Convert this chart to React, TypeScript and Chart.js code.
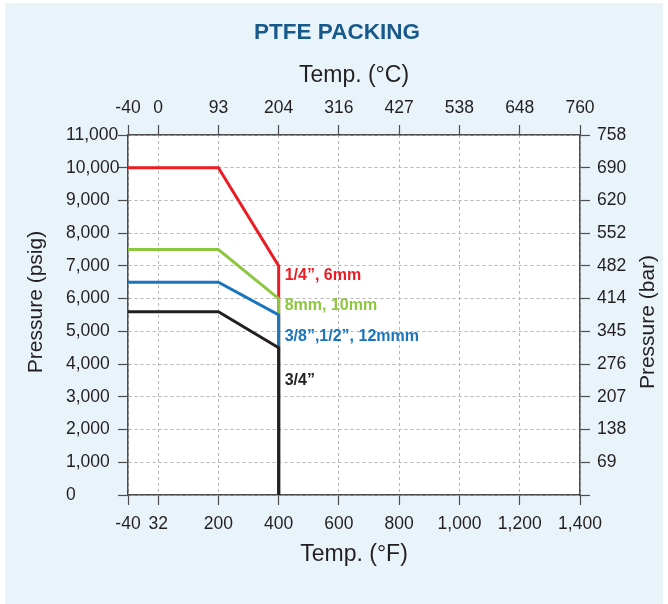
import React, { useEffect, useRef } from 'react';
import { Chart, registerables, LinearScale } from 'chart.js';

// ---------- data ----------
const tempF = [-40, 200, 400, 400];
const pressureQuarter = [10000, 10000, 7000, 0];
const pressure8mm = [7500, 7500, 6000, 0];
const pressure38 = [6500, 6500, 5500, 0];
const pressure34 = [5600, 5600, 4500, 0];

const seriesNames = ['1/4\u201D, 6mm', '8mm, 10mm', '3/8\u201D,1/2\u201D, 12mmm', '3/4\u201D'];
const seriesValues = [pressureQuarter, pressure8mm, pressure38, pressure34];
const seriesColors = ['#ec1c24', '#8dc63f', '#1b75bc', '#231f20'];
const labelTempF = 400;
const labelPressure = [6700, 5800, 4850, 3500];

const fTicks = [-40, 32, 200, 400, 600, 800, 1000, 1200, 1400];
const fTickLabels = ['-40', '32', '200', '400', '600', '800', '1,000', '1,200', '1,400'];
const cTickLabels = ['-40', '0', '93', '204', '316', '427', '538', '648', '760'];
const psigTicks = [0, 1000, 2000, 3000, 4000, 5000, 6000, 7000, 8000, 9000, 10000, 11000];
const psigTickLabels = ['0', '1,000', '2,000', '3,000', '4,000', '5,000', '6,000', '7,000', '8,000', '9,000', '10,000', '11,000'];
const barTickLabels = ['', '69', '138', '207', '276', '345', '414', '482', '552', '620', '690', '758'];

// axis slot layout (tick spacing of the printed chart)
const fSlots = [0, 0.5, 1.5, 2.5, 3.5, 4.5, 5.5, 6.5, 7.5];

// ---------- styles ----------
const FONT = "'Liberation Sans', Arial, Helvetica, sans-serif";
const TXT = '#231f20';
const AXIS = '#4d4d4f';
const GRID = '#b5b5b5';
const TITLE_COLOR = '#17598a';

class PiecewiseScale extends LinearScale {
  static id = 'piecewise';
  static defaults = { ...(LinearScale as any).defaults };

  buildTicks() {
    const anchors: number[] = (this as any).options.anchors;
    return anchors.map((v) => ({ value: v }));
  }

  getPixelForValue(value: number) {
    const anchors: number[] = (this as any).options.anchors;
    const slots: number[] = (this as any).options.slots;
    const last = anchors.length - 1;
    const total = slots[last];
    let pos: number;
    if (value <= anchors[0]) pos = slots[0];
    else if (value >= anchors[last]) pos = slots[last];
    else {
      let i = 0;
      while (i < last - 1 && value > anchors[i + 1]) i++;
      pos = slots[i] + ((value - anchors[i]) / (anchors[i + 1] - anchors[i])) * (slots[i + 1] - slots[i]);
    }
    return (this as any).getPixelForDecimal(pos / total);
  }

  getValueForPixel(pixel: number) {
    const anchors: number[] = (this as any).options.anchors;
    const slots: number[] = (this as any).options.slots;
    const last = anchors.length - 1;
    const pos = (this as any).getDecimalForPixel(pixel) * slots[last];
    let i = 0;
    while (i < last - 1 && pos > slots[i + 1]) i++;
    return anchors[i] + ((pos - slots[i]) / (slots[i + 1] - slots[i])) * (anchors[i + 1] - anchors[i]);
  }
}

Chart.register(...registerables, PiecewiseScale as any);

const bgPlugin = {
  id: 'plotBg',
  beforeDraw(chart: any) {
    const { ctx, chartArea } = chart;
    ctx.save();
    ctx.fillStyle = '#ffffff';
    ctx.fillRect(chartArea.left, chartArea.top, chartArea.right - chartArea.left, chartArea.bottom - chartArea.top);
    ctx.restore();
  },
};

const textPlugin = {
  id: 'texts',
  afterDatasetsDraw(chart: any) {
    const { ctx } = chart;
    const xs = chart.scales.x;
    const ys = chart.scales.y;
    ctx.save();
    ctx.font = `bold 16px ${FONT}`;
    ctx.textAlign = 'left';
    ctx.textBaseline = 'middle';
    seriesNames.forEach((name, i) => {
      ctx.fillStyle = seriesColors[i];
      ctx.fillText(name, xs.getPixelForValue(labelTempF) + 6, ys.getPixelForValue(labelPressure[i]));
    });
    ctx.restore();
  },
  afterDraw(chart: any) {
    const { ctx, chartArea } = chart;
    const midY = (chartArea.top + chartArea.bottom) / 2;
    ctx.save();
    ctx.textAlign = 'center';
    ctx.textBaseline = 'middle';
    ctx.fillStyle = TITLE_COLOR;
    ctx.font = `bold 22.5px ${FONT}`;
    ctx.fillText('PTFE PACKING', 337, 32.5);

    ctx.fillStyle = TXT;
    ctx.font = `21px ${FONT}`;
    ctx.save();
    ctx.translate(36, midY - 13);
    ctx.rotate(-Math.PI / 2);
    ctx.fillText('Pressure (psig)', 0, 0);
    ctx.restore();

    ctx.save();
    ctx.translate(648.5, midY + 7);
    ctx.rotate(-Math.PI / 2);
    ctx.fillText('Pressure (bar)', 0, 0);
    ctx.restore();
    ctx.restore();
  },
};

const tickFont = { size: 17.5, family: FONT };
const titleFont = { size: 23, family: FONT };

export default function App() {
  const ref = useRef<HTMLCanvasElement>(null);

  useEffect(() => {
    if (!ref.current) return;
    const datasets = seriesValues.map((vals, i) => ({
      label: seriesNames[i],
      data: tempF.map((t, j) => ({ x: t, y: vals[j] })),
      borderColor: seriesColors[i],
      backgroundColor: seriesColors[i],
      borderWidth: 3,
      pointRadius: 0,
      fill: false,
      tension: 0,
      borderJoinStyle: 'miter',
      borderCapStyle: 'butt',
      order: seriesValues.length - i,
      xAxisID: 'x',
      yAxisID: 'y',
    }));

    const chart = new Chart(ref.current, {
      type: 'line',
      data: { datasets } as any,
      plugins: [bgPlugin, textPlugin],
      options: {
        responsive: false,
        animation: false,
        devicePixelRatio: 1,
        layout: { padding: { left: 66, top: 54, right: 0, bottom: 0 } },
        plugins: { legend: { display: false }, tooltip: { enabled: false }, title: { display: false } },
        scales: {
          x: {
            type: 'piecewise',
            position: 'bottom',
            min: -40,
            max: 1400,
            anchors: fTicks,
            slots: fSlots,
            afterFit: (s: any) => { s.height = 109; },
            grid: { display: true, drawOnChartArea: true, color: GRID, lineWidth: 1, drawTicks: true, tickLength: 10, tickColor: AXIS, tickWidth: 1.2 },
            border: { display: true, color: AXIS, width: 1.5, dash: [3, 3] },
            ticks: { autoSkip: false, maxRotation: 0, padding: 8.5, color: TXT, font: tickFont, callback: (_v: any, i: number) => fTickLabels[i] },
            title: { display: true, text: 'Temp. (\u00B0F)', color: TXT, font: titleFont, padding: { top: 0, bottom: 36 } },
          },
          x2: {
            type: 'piecewise',
            position: 'top',
            min: -40,
            max: 1400,
            anchors: fTicks,
            slots: fSlots,
            afterFit: (s: any) => { s.height = 81; },
            grid: { display: true, drawOnChartArea: false, drawTicks: true, tickLength: 10, tickColor: AXIS, tickWidth: 1.2 },
            border: { display: true, color: AXIS, width: 1.5 },
            ticks: { autoSkip: false, maxRotation: 0, padding: 6.5, color: TXT, font: tickFont, callback: (_v: any, i: number) => cTickLabels[i] },
            title: { display: true, text: 'Temp. (\u00B0C)', color: TXT, font: titleFont, padding: { top: 8, bottom: 0 } },
          },
          y: {
            type: 'linear',
            position: 'left',
            min: 0,
            max: 11000,
            afterBuildTicks: (s: any) => { s.ticks = psigTicks.map((v) => ({ value: v })); },
            afterFit: (s: any) => { s.width = 62; },
            grid: { display: true, drawOnChartArea: true, color: GRID, lineWidth: 1, drawTicks: true, tickLength: 10, tickColor: AXIS, tickWidth: 1.2 },
            border: { display: true, color: AXIS, width: 1.5, dash: [3, 3] },
            ticks: { crossAlign: 'far', color: TXT, font: tickFont, callback: (_v: any, i: number) => psigTickLabels[i] },
          },
          y2: {
            type: 'linear',
            position: 'right',
            min: 0,
            max: 11000,
            afterBuildTicks: (s: any) => { s.ticks = psigTicks.map((v) => ({ value: v })); },
            afterFit: (s: any) => { s.width = 88; },
            grid: { display: true, drawOnChartArea: false, drawTicks: true, tickLength: 10, tickColor: AXIS, tickWidth: 1.2 },
            border: { display: true, color: AXIS, width: 1.5 },
            ticks: { padding: 7, color: TXT, font: tickFont, callback: (_v: any, i: number) => barTickLabels[i] },
          },
        } as any,
      },
    });
    return () => chart.destroy();
  }, []);

  return (
    <div style={{ position: 'absolute', left: 0, top: 0, width: 668, height: 604, background: '#ffffff' }}>
      <div style={{ position: 'absolute', left: 5, top: 3, width: 658, height: 601, background: '#e8f3fa' }} />
      <canvas
        ref={ref}
        width={668}
        height={604}
        style={{ position: 'absolute', left: 0, top: 0, width: 668, height: 604 }}
      />
    </div>
  );
}
